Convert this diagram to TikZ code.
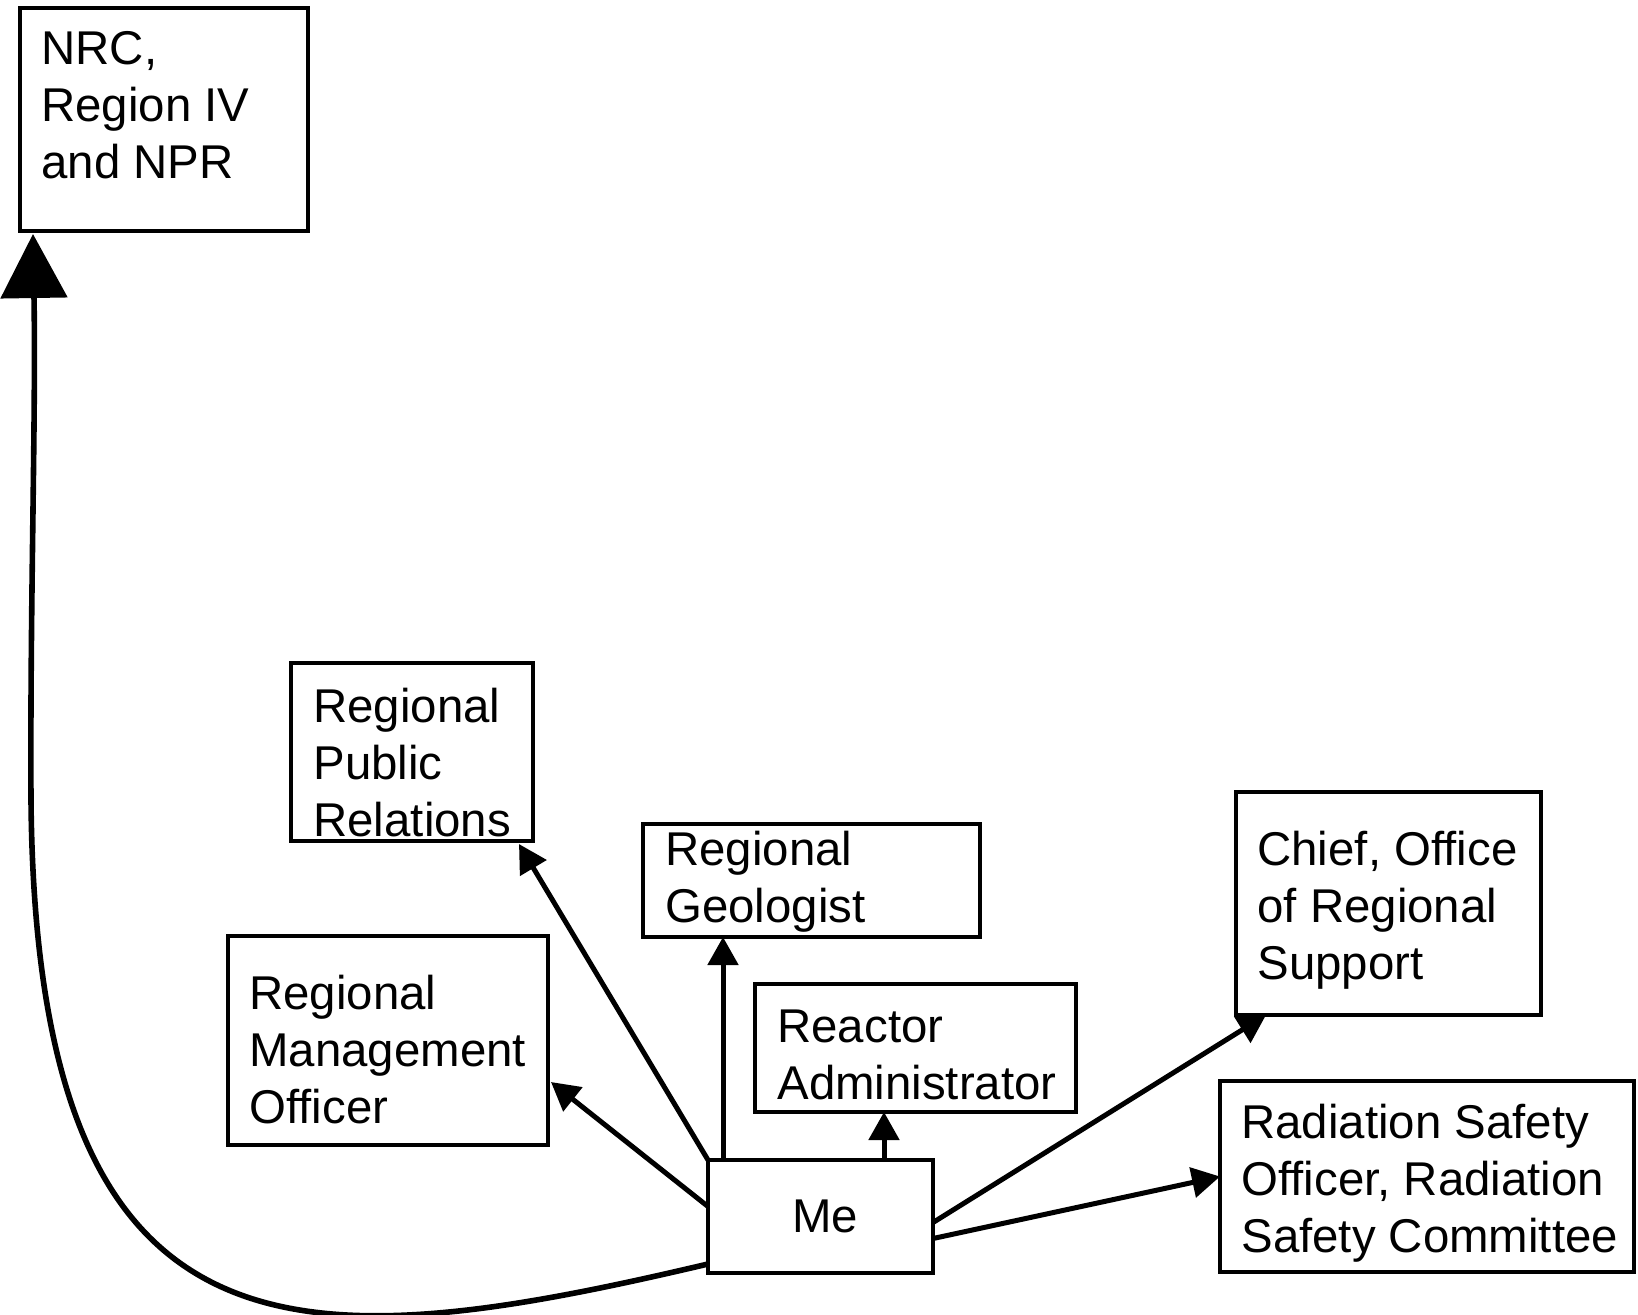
\documentclass[tikz,border=0pt]{standalone}
\usepackage{fontspec}
\setmainfont{Liberation Sans}
\usetikzlibrary{arrows.meta,calc}
\begin{document}
\begin{tikzpicture}[x=0.5pt,y=-0.5pt,
  box/.style={draw, line width=1.85pt, inner sep=0pt, outer sep=0pt, anchor=north west, rectangle},
  lbl/.style={inner sep=0pt, anchor=base west, align=left, font=\fontsize{23.7pt}{28.5pt}\selectfont},
  conn/.style={line width=2.5pt, -{Triangle[length=14pt,width=15pt]}},
  bigconn/.style={line width=2.8pt, -{Triangle[length=32pt,width=33pt]}}]
\useasboundingbox (0,0) rectangle (1638,1314);
% boxes
\node[box, minimum width=144pt, minimum height=111.5pt] (nrc) at (20,8) {};
\node[box, minimum width=121pt, minimum height=89pt] (pr) at (291,663) {};
\node[box, minimum width=168.5pt, minimum height=56.5pt] (geo) at (643,824) {};
\node[box, minimum width=160pt, minimum height=104.5pt] (rmo) at (228,936) {};
\node[box, minimum width=160.5pt, minimum height=64pt] (rea) at (755,984) {};
\node[box, minimum width=112.5pt, minimum height=56.5pt] (me) at (708,1160) {};
\node[box, minimum width=152.5pt, minimum height=111.5pt] (chief) at (1236,792) {};
\node[box, minimum width=207pt, minimum height=95.5pt] (rad) at (1220,1081) {};
% texts (anchored at the baseline of their last line)
\node[lbl] (nrct) at (41,178) {NRC,\\Region IV\\and NPR};
\node[lbl] (prt) at (313,836) {Regional\\Public\\Relations};
\node[lbl] (geot) at (665,922) {Regional\\Geologist};
\node[lbl] (rmot) at (249,1123) {Regional\\Management\\Officer};
\node[lbl] (reat) at (777,1099) {Reactor\\Administrator};
\node[lbl, anchor=base] (met) at (825,1232) {Me};
\node[lbl] (chieft) at (1257,979) {Chief, Office\\of Regional\\Support};
\node[lbl] (radt) at (1241,1252) {Radiation Safety\\Officer, Radiation\\Safety Committee};
% connectors
\coordinate (bend) at (31,800);
\draw[conn] ($(me.west)+(0,-10)$) -- ($(rmo.south east)+(3,-63)$);
\draw[conn] (me.north west) -- ($(pr.south east)+(-14,3)$);
\draw[conn] ($(me.north west)+(15,0)$) -- ($(geo.south west)+(80,0)$);
\draw[conn] ($(me.north west)+(176,0)$) -- ($(rea.south west)+(129,0)$);
\draw[conn] ($(me.east)+(0,6)$) -- ($(chief.south west)+(30,0)$);
\draw[conn] ($(me.east)+(0,22)$) -- (rad.west);
\draw[bigconn] ($(me.south west)+(0,-9)$) .. controls (300,1360) and (36,1380) .. (bend) .. controls (30,600) and (36,420) .. ($(nrc.south west)+(13,3)$);
\end{tikzpicture}
\end{document}
